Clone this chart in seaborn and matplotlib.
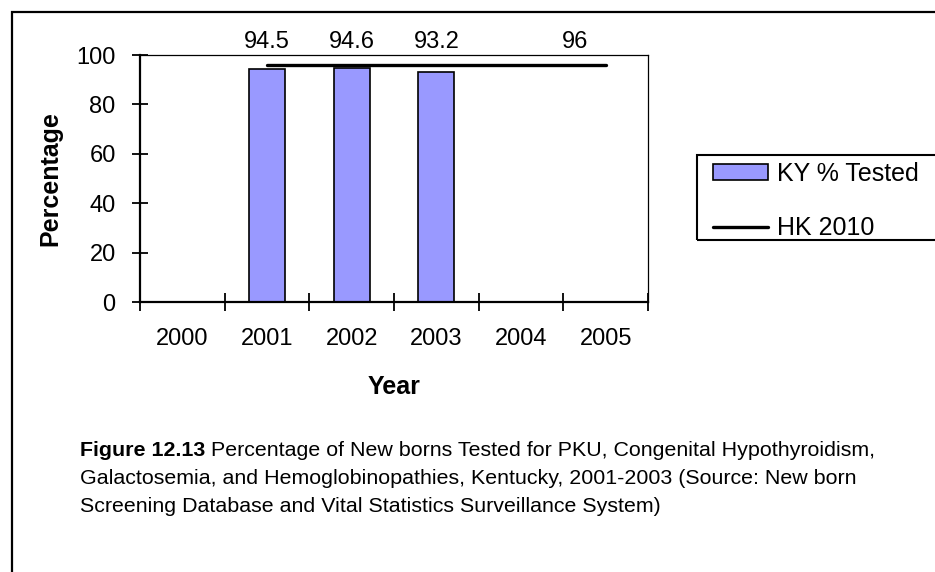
import numpy as np
import pandas as pd
import matplotlib.pyplot as plt
import seaborn as sns
from matplotlib.patches import Rectangle

years = ['2000', '2001', '2002', '2003', '2004', '2005']
tested_years = ['2001', '2002', '2003']
tested = [94.5, 94.6, 93.2]
hk_years = ['2001', '2002', '2003', '2004', '2005']
hk_target = [96, 96, 96, 96, 96]
y_ticks = [0, 20, 40, 60, 80, 100]

caption_bold = 'Figure 12.13'
caption_lines = [
    ' Percentage of New borns Tested for PKU, Congenital Hypothyroidism,',
    'Galactosemia, and Hemoglobinopathies, Kentucky, 2001-2003 (Source: New born',
    'Screening Database and Vital Statistics Surveillance System)',
]


def px(x, y):
    # pixel (from top-left) -> figure fraction
    return x / 935, 1 - y / 572


def run():
    sns.set_style('white')
    plt.rcParams['font.family'] = ['Liberation Sans', 'DejaVu Sans']
    for k in ['text.color', 'axes.labelcolor', 'xtick.color', 'ytick.color']:
        plt.rcParams[k] = 'black'

    fig = plt.figure(figsize=(9.35, 5.72), dpi=100)
    ax = fig.add_axes([140 / 935, 1 - 302 / 572, 508 / 935, 247 / 572])

    df = pd.DataFrame({'year': tested_years, 'pct': tested})
    sns.barplot(data=df, x='year', y='pct', order=years, color='#9999FF',
                saturation=1, edgecolor='black', linewidth=1.2, width=0.425,
                errorbar=None, ax=ax)
    bars = ax.patches

    hk_x = [years.index(y) for y in hk_years]
    sns.lineplot(x=hk_x, y=hk_target, color='black', linewidth=2.4, ax=ax,
                 solid_capstyle='round')
    hk_line = ax.lines[-1]

    # data labels above the plot area
    for y, v in zip(tested_years, tested):
        ax.text(years.index(y), 101, f'{v:g}', ha='center', va='bottom', fontsize=17)
    ax.text(hk_x[-1] - 0.36, 101, f'{hk_target[-1]:g}', ha='center', va='bottom', fontsize=17)

    ax.set_xlim(-0.5, len(years) - 0.5)
    ax.set_ylim(0, 100)
    ax.set_yticks(y_ticks)
    ax.set_yticklabels([str(t) for t in y_ticks], fontsize=17)
    ax.set_xticks(np.arange(-0.5, len(years), 1.0))
    ax.set_xticklabels([])
    ax.set_xticks(np.arange(len(years)), minor=True)
    ax.set_xticklabels(years, minor=True, fontsize=17)
    ax.tick_params(axis='x', which='major', bottom=True, direction='inout', length=13,
                   width=1.3, color='black')
    ax.tick_params(axis='x', which='minor', bottom=True, length=0, pad=19)
    ax.tick_params(axis='y', left=True, direction='inout', length=11, width=1.3,
                   color='black', pad=12)

    for side in ['left', 'bottom']:
        ax.spines[side].set_linewidth(1.6)
        ax.spines[side].set_color('black')
    for side in ['top', 'right']:
        ax.spines[side].set_linewidth(0.9)
        ax.spines[side].set_color('black')

    ax.set_xlabel('Year', fontsize=18, fontweight='bold', labelpad=18)
    ax.set_ylabel('Percentage', fontsize=18, fontweight='bold', labelpad=10)

    # legend with its own square frame (clipped at right edge)
    fig.patches.append(Rectangle(px(697, 240), 260 / 935, 85 / 572, transform=fig.transFigure,
                                 fill=False, edgecolor='black', linewidth=1.5))
    fig.legend([bars[0], hk_line], ['KY % Tested', 'HK 2010'],
               loc='upper left', bbox_to_anchor=px(713, 162), frameon=False,
               fontsize=18, borderpad=0, borderaxespad=0, handlelength=2.2,
               handleheight=0.6, handletextpad=0.35, labelspacing=1.2)

    # outer border
    fig.patches.append(Rectangle(px(12, 600), 940 / 935, (600 - 12) / 572,
                                 transform=fig.transFigure, fill=False,
                                 edgecolor='black', linewidth=1.6))

    # caption with bold lead-in
    x0, y0 = px(80, 451)
    t = fig.text(x0, y0, caption_bold, fontsize=15.4, fontweight='bold', va='center')
    fig.canvas.draw()
    bb = t.get_window_extent(renderer=fig.canvas.get_renderer())
    fig.text(bb.x1 / fig.bbox.width, y0, caption_lines[0], fontsize=15.4, va='center')
    for i, line in enumerate(caption_lines[1:]):
        fig.text(x0, px(0, 479 + 28 * i)[1], line, fontsize=15.4, va='center')

    fig.savefig('out.png', dpi=100)


if __name__ == '__main__':
    run()
